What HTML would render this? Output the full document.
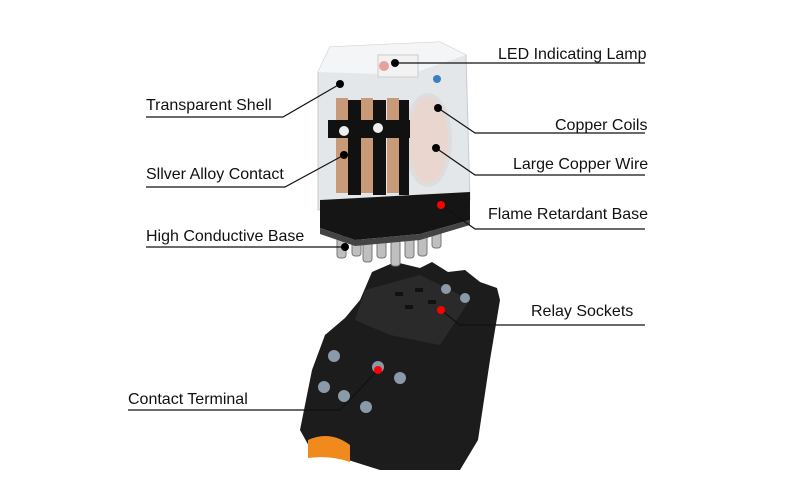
<!DOCTYPE html>
<html><head><meta charset="utf-8"><style>
html,body{margin:0;padding:0;background:#fff;}
svg{display:block}
text{font-family:"Liberation Sans",sans-serif;font-size:16px;fill:#111;}
</style></head><body>
<svg width="800" height="480" viewBox="0 0 800 480" xmlns="http://www.w3.org/2000/svg">
<!-- socket -->
<polygon points="372,272 395,262 420,268 432,262 448,272 465,270 480,282 497,288 500,300 490,360 478,440 460,470 420,470 380,470 310,448 300,430 312,370 325,335 345,318 360,300" fill="#1c1c1c"/>
<polygon points="365,290 420,275 470,300 440,345 390,335 355,320" fill="#2a2a2a"/>
<g fill="#111">
<rect x="395" y="292" width="8" height="4"/><rect x="415" y="288" width="8" height="4"/><rect x="405" y="305" width="8" height="4"/><rect x="428" y="300" width="8" height="4"/>
</g>
<g fill="#8a9aa8">
<circle cx="334" cy="356" r="6"/><circle cx="378" cy="367" r="6"/><circle cx="400" cy="378" r="6"/>
<circle cx="324" cy="387" r="6"/><circle cx="344" cy="396" r="6"/><circle cx="366" cy="407" r="6"/>
<circle cx="446" cy="289" r="5"/><circle cx="465" cy="298" r="5"/>
</g>
<path d="M308,440 Q330,430 350,445 L350,462 Q330,455 308,458 Z" fill="#f08a1c"/>
<!-- relay pins -->
<g fill="#bfbfbf" stroke="#777" stroke-width="1">
<rect x="337" y="236" width="9" height="22" rx="3"/><rect x="352" y="236" width="9" height="20" rx="3"/>
<rect x="363" y="240" width="9" height="22" rx="3"/><rect x="377" y="238" width="9" height="20" rx="3"/>
<rect x="391" y="240" width="9" height="26" rx="3"/><rect x="405" y="238" width="9" height="20" rx="3"/>
<rect x="418" y="234" width="9" height="22" rx="3"/><rect x="432" y="230" width="9" height="18" rx="3"/>
</g>
<!-- relay shell -->
<path d="M318,72 L330,47 L440,42 L466,55 L470,200 L318,210 Z" fill="#e4e7ea" stroke="#c8cbce"/>
<path d="M318,72 L330,47 L440,42 L466,55 L408,75 Z" fill="#f4f5f6"/>
<rect x="378" y="55" width="40" height="22" fill="#f2f2f2" stroke="#ccc"/>
<circle cx="384" cy="66" r="5" fill="#e8a0a0"/>
<circle cx="437" cy="79" r="4" fill="#3a7fc0"/>
<ellipse cx="428" cy="140" rx="22" ry="45" fill="#e8d6cf" stroke="#ddd" stroke-width="4"/>
<!-- contacts -->
<g fill="#c99a78">
<rect x="336" y="98" width="12" height="95"/><rect x="361" y="98" width="12" height="95"/><rect x="387" y="98" width="12" height="95"/>
</g>
<g fill="#111">
<rect x="348" y="100" width="13" height="95"/><rect x="373" y="100" width="13" height="95"/><rect x="399" y="100" width="10" height="95"/>
<rect x="328" y="120" width="82" height="18"/>
</g>
<circle cx="344" cy="131" r="5" fill="#eee"/><circle cx="378" cy="128" r="5" fill="#eee"/>
<!-- black base -->
<polygon points="320,200 470,192 470,220 420,234 355,240 320,228" fill="#151515"/>
<polygon points="320,228 355,240 420,234 470,220 470,225 420,240 355,246 320,234" fill="#444"/>
<!-- leader lines -->
<g stroke="#111" stroke-width="1.2" fill="none">
<polyline points="395,63 645,63"/>
<polyline points="146,117 283,117 340,84"/>
<polyline points="438,108 475,133 645,133"/>
<polyline points="436,148 475,175 645,175"/>
<polyline points="146,187 285,187 344,155"/>
<polyline points="441,205 475,229 645,229"/>
<polyline points="146,247 345,247"/>
<polyline points="441,310 460,325 645,325"/>
<polyline points="128,410 340,410 378,370"/>
</g>
<g fill="#000">
<circle cx="395" cy="63" r="4"/><circle cx="340" cy="84" r="4"/><circle cx="438" cy="108" r="4"/>
<circle cx="436" cy="148" r="4"/><circle cx="344" cy="155" r="4"/><circle cx="345" cy="247" r="4"/>
</g>
<g fill="#f00">
<circle cx="441" cy="205" r="4"/><circle cx="441" cy="310" r="4"/><circle cx="378" cy="370" r="4"/>
</g>
<text x="498" y="59">LED Indicating Lamp</text>
<text x="146" y="110">Transparent Shell</text>
<text x="555" y="130">Copper Coils</text>
<text x="513" y="169">Large Copper Wire</text>
<text x="146" y="179">Sllver Alloy Contact</text>
<text x="488" y="219">Flame Retardant Base</text>
<text x="146" y="241">High Conductive Base</text>
<text x="531" y="316">Relay Sockets</text>
<text x="128" y="404">Contact Terminal</text>
</svg>
</body></html>
